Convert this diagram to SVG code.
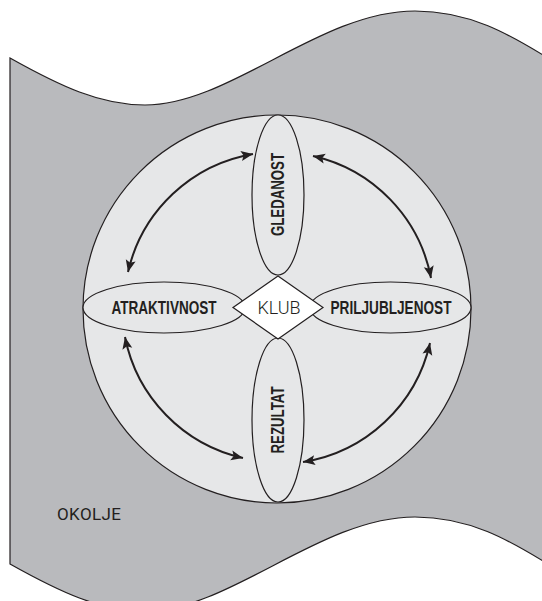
<svg xmlns="http://www.w3.org/2000/svg" width="542" height="601" viewBox="0 0 542 601">
<style>
.ln{stroke:#231f20;stroke-width:1.2;}
.node{fill:#e6e7e8;stroke:#231f20;stroke-width:1.2;}
.lbl{font-family:"Liberation Sans",Arial,sans-serif;font-weight:bold;font-size:17.5px;fill:#231f20;}
.lite{font-family:Roboto,"Liberation Sans",sans-serif;font-weight:300;font-size:18px;fill:#231f20;}
.arr{fill:none;stroke:#231f20;stroke-width:2;marker-start:url(#ah);marker-end:url(#ah);}
</style>
<defs>
<marker id="ah" markerUnits="userSpaceOnUse" markerWidth="14" markerHeight="12" refX="12" refY="5" orient="auto-start-reverse" viewBox="0 0 14 10">
<path d="M0,0 L12,5 L0,10 L2.5,5 Z" fill="#231f20"/>
</marker>
</defs>
<g id="okolje">
<path d="M10,58 C60,86 100,105 145,105 C230,105 320,11 415,11 C470,11 510,35 543,55 L543,561 C510,541 470,517 415,517 C320,517 230,611 145,611 C100,611 60,592 10,564 Z" fill="#b9babd" class="ln"/>
<text class="lite" x="57" y="519.5" textLength="64" lengthAdjust="spacing" style="font-weight:400;font-size:17px">OKOLJE</text>
</g>
<g id="krog">
<circle cx="277" cy="309" r="194" class="node"/>
</g>
<g id="gledanost">
<ellipse cx="278" cy="195" rx="26" ry="80" class="node"/>
<text class="lbl" transform="translate(283.8,194.5) rotate(-90)" text-anchor="middle" textLength="83" lengthAdjust="spacingAndGlyphs">GLEDANOST</text>
</g>
<g id="rezultat">
<ellipse cx="278" cy="420" rx="26" ry="82" class="node"/>
<text class="lbl" transform="translate(283.8,420) rotate(-90)" text-anchor="middle" textLength="67" lengthAdjust="spacingAndGlyphs">REZULTAT</text>
</g>
<g id="atraktivnost">
<ellipse cx="164" cy="307.5" rx="81" ry="25.5" class="node"/>
<text class="lbl" x="164" y="313.8" text-anchor="middle" textLength="105" lengthAdjust="spacingAndGlyphs">ATRAKTIVNOST</text>
</g>
<g id="priljubljenost">
<ellipse cx="390.5" cy="307.5" rx="80.5" ry="25.5" class="node"/>
<text class="lbl" x="391" y="313.8" text-anchor="middle" textLength="121" lengthAdjust="spacingAndGlyphs">PRILJUBLJENOST</text>
</g>
<g id="klub">
<polygon points="233,307.5 278,276 323,307.5 278,339" fill="#ffffff" class="ln"/>
<text class="lite" x="279" y="314" text-anchor="middle" textLength="43" lengthAdjust="spacing">KLUB</text>
</g>
<g id="connectors">
<path class="arr" d="M128,272 A155,155 0 0,1 253,154"/>
<path class="arr" d="M313,156 A155,155 0 0,1 431,278"/>
<path class="arr" d="M430,343 A155,155 0 0,1 303,462"/>
<path class="arr" d="M243,458 A155,155 0 0,1 125,337"/>
</g>
</svg>
